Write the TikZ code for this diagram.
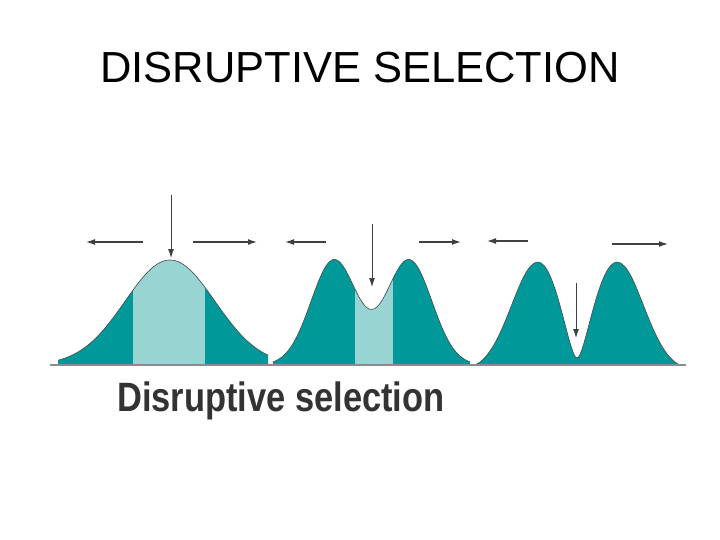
\documentclass[tikz,border=0pt]{standalone}
\usepackage{fontspec}
\setmainfont{Liberation Sans}
\usetikzlibrary{arrows.meta}
\begin{document}
\begin{tikzpicture}[x=1pt,y=-1pt,
  curve/.style={fill=tealc,draw=black!70,line width=0.6pt},
  arr/.style={-{Latex[length=9pt,width=6pt]},line width=1.3pt,draw=black!75}]
\definecolor{tealc}{RGB}{0,152,152}
\definecolor{lightc}{RGB}{152,212,210}
\useasboundingbox (0,0) rectangle (720,540);
\fill[white] (0,0) rectangle (720,540);
\node (title) at (360,68) {\fontsize{43.5}{48}\selectfont DISRUPTIVE SELECTION};
% curve 1
\def\cA{(58,365) -- plot[domain=58:268,samples=120,smooth] (\x,{365-105*exp(-((\x-170)/45)^2/2)}) -- (268,365) -- cycle}
\fill[tealc] \cA;
\begin{scope}\clip \cA; \fill[lightc] (133,250) rectangle (205,366);\end{scope}
\draw[black!70,line width=0.6pt] plot[domain=58:268,samples=120,smooth] (\x,{365-105*exp(-((\x-170)/45)^2/2)});
% curve 2
\def\cB{(273,365) -- plot[domain=273:470,samples=150,smooth] (\x,{365-105*exp(-((\x-334)/23)^2/2)-105*exp(-((\x-409)/23)^2/2)}) -- (470,365) -- cycle}
\fill[tealc] \cB;
\begin{scope}\clip \cB; \fill[lightc] (355,250) rectangle (393,366);\end{scope}
\draw[black!70,line width=0.6pt] plot[domain=273:470,samples=150,smooth] (\x,{365-105*exp(-((\x-334)/23)^2/2)-105*exp(-((\x-409)/23)^2/2)});
% curve 3
\draw[curve] (475,365) .. controls (505,352) and (518,262) .. (538,262) .. controls (556,262) and (569,358) .. (577,358) .. controls (585,358) and (598,262) .. (617,262) .. controls (637,262) and (650,352) .. (680,365) -- cycle;
% axis
\coordinate (axl) at (50,365); \coordinate (axr) at (686,365);
\draw[black!45,line width=2.5pt] (axl) -- (axr);
% arrows
\coordinate (a1s) at (143,242); \coordinate (a1e) at (86,242);
\coordinate (b1s) at (193,242); \coordinate (b1e) at (257,242);
\coordinate (d1s) at (171,195); \coordinate (d1e) at (171,258);
\coordinate (a2s) at (326,242); \coordinate (a2e) at (285,242);
\coordinate (b2s) at (419,242); \coordinate (b2e) at (461,242);
\coordinate (d2s) at (372,224); \coordinate (d2e) at (372,287);
\coordinate (a3s) at (528,241); \coordinate (a3e) at (487,241);
\coordinate (b3s) at (612,244); \coordinate (b3e) at (668,244);
\coordinate (d3s) at (576,283); \coordinate (d3e) at (576,338);
\foreach \s/\e in {a1s/a1e,b1s/b1e,a2s/a2e,b2s/b2e,a3s/a3e,b3s/b3e}
  \draw[arr] (\s) -- (\e);
\foreach \s/\e in {d1s/d1e,d2s/d2e,d3s/d3e}
  \draw[arr,line width=0.9pt] (\s) -- (\e);
\node[anchor=west,text=black!80,inner sep=0] (sub) at (117,401) {\fontsize{41}{46}\selectfont\bfseries\addfontfeatures{FakeStretch=0.84}Disruptive selection};
\end{tikzpicture}
\end{document}
